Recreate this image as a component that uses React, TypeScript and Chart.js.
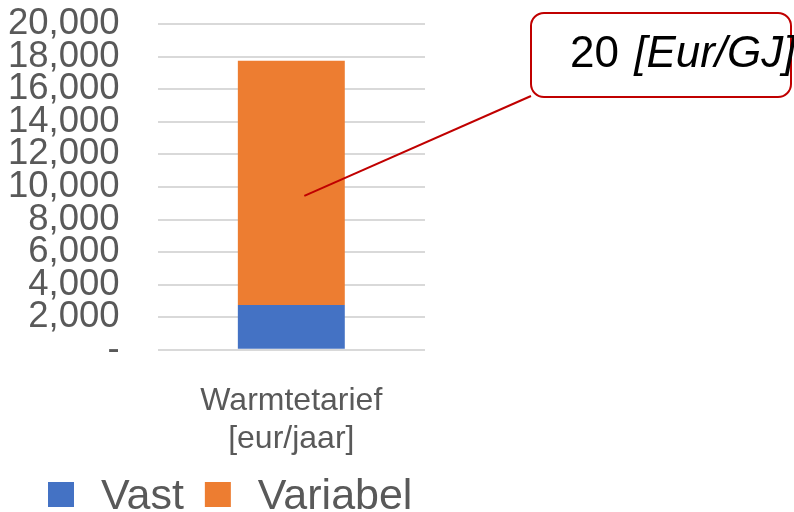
import React, { useEffect, useRef } from "react";
import { Chart, registerables } from "chart.js";

Chart.register(...registerables);

const categories: string[][] = [["Warmtetarief", "[eur/jaar]"]];
const seriesNames = ["Vast", "Variabel"];
const vastValues = [2750];
const variabelValues = [15000];
const seriesColors = ["#4472C4", "#ED7D31"];
const yTicks = { min: 0, max: 20000, step: 2000 };
const calloutValue = 9450;
const calloutNumber = "20";
const calloutUnit = "[Eur/GJ]";

const FONT = "'Liberation Sans', Arial, sans-serif";

const overlayPlugin = {
  id: "overlay",
  afterDraw(chart: any) {
    const ctx = chart.ctx as CanvasRenderingContext2D;
    const xs = chart.scales.x;
    const ys = chart.scales.y;

    // Callout leader line
    const ax = xs.getPixelForValue(0) + 13;
    const ay = ys.getPixelForValue(calloutValue);
    const bx = 531, by = 13, bw = 260, bh = 84, r = 13;
    ctx.save();
    ctx.strokeStyle = "#C00000";
    ctx.lineWidth = 2;
    ctx.beginPath();
    ctx.moveTo(ax, ay);
    ctx.lineTo(bx, by + bh - 1);
    ctx.stroke();

    // Callout box
    ctx.fillStyle = "#FFFFFF";
    ctx.beginPath();
    ctx.moveTo(bx + r, by);
    ctx.lineTo(bx + bw - r, by);
    ctx.arcTo(bx + bw, by, bx + bw, by + r, r);
    ctx.lineTo(bx + bw, by + bh - r);
    ctx.arcTo(bx + bw, by + bh, bx + bw - r, by + bh, r);
    ctx.lineTo(bx + r, by + bh);
    ctx.arcTo(bx, by + bh, bx, by + bh - r, r);
    ctx.lineTo(bx, by + r);
    ctx.arcTo(bx, by, bx + r, by, r);
    ctx.closePath();
    ctx.fill();
    ctx.stroke();

    ctx.fillStyle = "#000000";
    ctx.textBaseline = "alphabetic";
    ctx.textAlign = "left";
    ctx.font = `44px ${FONT}`;
    const t1 = calloutNumber + " ";
    ctx.fillText(t1, 570, 67);
    const w1 = ctx.measureText(t1).width;
    ctx.font = `italic 44px ${FONT}`;
    ctx.fillText(calloutUnit, 573 + w1, 67);

    // Legend
    const items = chart.data.datasets.map((d: any) => ({
      label: d.label,
      color: d.backgroundColor,
    }));
    ctx.font = `43px ${FONT}`;
    let x = 48;
    const sq = 25;
    const sy = 482;
    items.forEach((it: any) => {
      ctx.fillStyle = it.color;
      ctx.fillRect(x, sy, sq + 1, sq);
      x += sq + 28;
      ctx.fillStyle = "#595959";
      ctx.fillText(it.label, x, 509);
      x += ctx.measureText(it.label).width + 21;
    });
    ctx.restore();
  },
};

export default function App() {
  const ref = useRef<HTMLCanvasElement>(null);
  useEffect(() => {
    if (!ref.current) return;
    const chart = new Chart(ref.current, {
      type: "bar",
      data: {
        labels: categories,
        datasets: [
          {
            label: seriesNames[0],
            data: vastValues,
            backgroundColor: seriesColors[0],
            barPercentage: 0.4,
            categoryPercentage: 1,
          },
          {
            label: seriesNames[1],
            data: variabelValues,
            backgroundColor: seriesColors[1],
            barPercentage: 0.4,
            categoryPercentage: 1,
          },
        ],
      },
      options: {
        responsive: false,
        animation: false,
        layout: { padding: { left: 8, right: 369, top: 24, bottom: 54 } },
        plugins: {
          legend: { display: false },
          tooltip: { enabled: false },
        },
        scales: {
          x: {
            stacked: true,
            grid: {
              display: true,
              drawOnChartArea: false,
              drawTicks: true,
              tickLength: 32,
              color: "rgba(0,0,0,0)",
              tickColor: "rgba(0,0,0,0)",
            },
            border: { display: false },
            ticks: {
              color: "#595959",
              font: { family: FONT, size: 32, lineHeight: 1.19 },
              padding: 0,
              maxRotation: 0,
            },
          },
          y: {
            stacked: true,
            min: yTicks.min,
            max: yTicks.max,
            grid: {
              color: "#D9D9D9",
              lineWidth: 2,
              drawTicks: true,
              tickLength: 38,
              tickColor: "rgba(0,0,0,0)",
            },
            border: { display: false },
            ticks: {
              stepSize: yTicks.step,
              autoSkip: false,
              color: "#595959",
              font: { family: FONT, size: 36.5, lineHeight: 1 },
              padding: 0,
              callback: (v: any) =>
                Number(v) === 0 ? "-" : Number(v).toLocaleString("en-US"),
            },
          },
        },
      },
      plugins: [overlayPlugin],
    });
    return () => chart.destroy();
  }, []);
  return (
    <div style={{ position: "absolute", left: 0, top: 0, width: 794, height: 512, background: "#fff" }}>
      <canvas ref={ref} width={794} height={512} />
    </div>
  );
}
